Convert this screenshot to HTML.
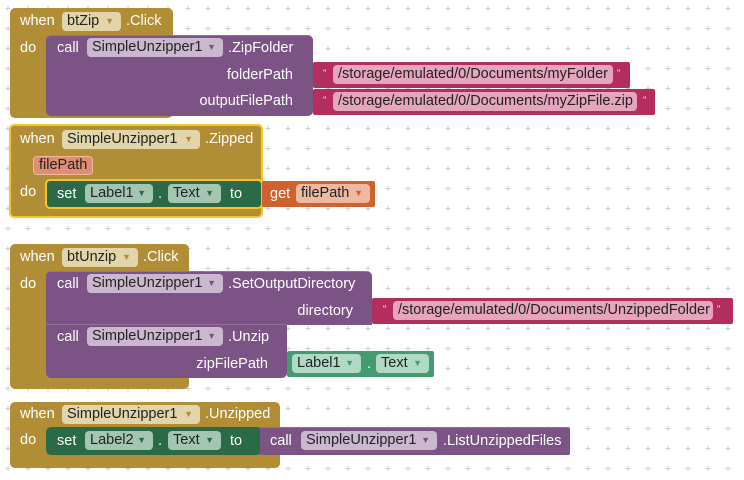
<!DOCTYPE html>
<html><head><meta charset="utf-8"><style>
body{margin:0;width:744px;height:480px;background:#fff;position:relative;overflow:hidden;font-family:"Liberation Sans",sans-serif;font-size:14.5px}
.b{position:absolute;border-radius:5px}
.gold{background:#b18e35}
.pur{background:#7c5385;border-top:1px solid #957099}
.pink{background:#b32d5e;border-radius:2px}
.dg{background:#2a6a47}
.lg{background:#459a72;border-radius:2px}
.or{background:#d0602c;border-radius:2px}
.t{position:absolute;color:#fff;line-height:16px;white-space:nowrap}
.r{text-align:right}
.c{position:absolute;height:19px;margin-top:-1px;line-height:19px;border-radius:4px;color:#222;padding:0 0 0 5px;white-space:nowrap;box-sizing:border-box}
.c i{font-style:normal;font-size:9px;color:#777;position:absolute;right:7px;top:0}
.cg{background:#e2d5a9}.cg i{color:#b18e35}
.cp{background:#cbb8d0}.cp i{color:#7c5385}
.cs{background:#e5a5bd}
.cgr{background:#a3c6b3}.cgr i{color:#2a6a47}
.cl{background:#b1dac6}.cl i{color:#459a72}
.co{background:#f0b89f}.co i{color:#d0602c}
.q{position:absolute;color:#fff;font-size:9px;line-height:10px}
</style></head><body>
<svg width="744" height="480" style="position:absolute;left:0;top:0">
<defs><pattern id="p" x="-2" y="-2" width="20" height="20" patternUnits="userSpaceOnUse">
<path d="M10 8v5M7.5 10.5h5" stroke="#cfcfcf" stroke-width="1"/></pattern></defs>
<rect width="744" height="480" fill="url(#p)"/></svg>

<!-- Block 1 -->
<div class="b gold" style="left:10px;top:8px;width:163px;height:110px"></div>
<div class="t" style="left:20px;top:13px">when</div>
<div class="c cg" style="left:62px;top:13px;width:59px">btZip<i>▼</i></div>
<div class="t" style="left:126px;top:13px">.Click</div>
<div class="t" style="left:20px;top:40px">do</div>
<div class="b pur" style="left:46px;top:35px;width:267px;height:80px"></div>
<div class="t" style="left:57px;top:40px">call</div>
<div class="c cp" style="left:87px;top:39px;width:136px">SimpleUnzipper1<i>▼</i></div>
<div class="t" style="left:228px;top:40px">.ZipFolder</div>
<div class="t r" style="left:150px;width:143px;top:67px">folderPath</div>
<div class="t r" style="left:150px;width:143px;top:93px">outputFilePath</div>
<div class="b pink" style="left:313px;top:62px;width:317px;height:26px"></div>
<div class="q" style="left:323px;top:68px">"</div>
<div class="c cs" style="left:333px;top:66px;width:280px">/storage/emulated/0/Documents/myFolder</div>
<div class="q" style="left:617px;top:68px">"</div>
<div class="b pink" style="left:313px;top:89px;width:342px;height:26px"></div>
<div class="q" style="left:323px;top:95px">"</div>
<div class="c cs" style="left:333px;top:93px;width:304px">/storage/emulated/0/Documents/myZipFile.zip</div>
<div class="q" style="left:643px;top:95px">"</div>

<!-- Block 2 -->
<div class="b gold" style="left:9px;top:124px;width:254px;height:94px;border:2px solid #f6c52d;box-sizing:border-box"></div>
<div class="t" style="left:20px;top:131px">when</div>
<div class="c cg" style="left:62px;top:131px;width:138px">SimpleUnzipper1<i>▼</i></div>
<div class="t" style="left:205px;top:131px">.Zipped</div>
<div class="c" style="left:33px;top:157px;width:60px;height:19px;background:#e08e73;border:1px solid #f0b9a0;color:#222;line-height:17px">filePath</div>
<div class="t" style="left:20px;top:184px">do</div>
<div class="b dg" style="left:45px;top:179px;width:218px;height:30px;border:2px solid #f6c52d;box-sizing:border-box"></div>
<div class="t" style="left:57px;top:186px">set</div>
<div class="c cgr" style="left:85px;top:185px;width:68px">Label1<i>▼</i></div>
<div class="t" style="left:158px;top:186px">.</div>
<div class="c cgr" style="left:168px;top:185px;width:53px">Text<i>▼</i></div>
<div class="t" style="left:230px;top:186px">to</div>
<div class="b or" style="left:262px;top:181px;width:113px;height:26px"></div>
<div class="t" style="left:270px;top:186px">get</div>
<div class="c co" style="left:296px;top:185px;width:74px">filePath<i>▼</i></div>

<!-- Block 3 -->
<div class="b gold" style="left:10px;top:244px;width:179px;height:145px"></div>
<div class="t" style="left:20px;top:249px">when</div>
<div class="c cg" style="left:62px;top:249px;width:76px">btUnzip<i>▼</i></div>
<div class="t" style="left:143px;top:249px">.Click</div>
<div class="t" style="left:20px;top:276px">do</div>
<div class="b pur" style="left:46px;top:271px;width:326px;height:53px;border-radius:5px 5px 0 0"></div>
<div class="t" style="left:57px;top:276px">call</div>
<div class="c cp" style="left:87px;top:275px;width:136px">SimpleUnzipper1<i>▼</i></div>
<div class="t" style="left:228px;top:276px">.SetOutputDirectory</div>
<div class="t r" style="left:200px;width:153px;top:303px">directory</div>
<div class="b pink" style="left:372px;top:298px;width:361px;height:26px"></div>
<div class="q" style="left:383px;top:304px">"</div>
<div class="c cs" style="left:393px;top:302px;width:320px">/storage/emulated/0/Documents/UnzippedFolder</div>
<div class="q" style="left:717px;top:304px">"</div>
<div class="b pur" style="left:46px;top:324px;width:241px;height:53px;border-radius:0 0 5px 5px;border-top:1px solid #957099"></div>
<div class="t" style="left:57px;top:329px">call</div>
<div class="c cp" style="left:87px;top:328px;width:136px">SimpleUnzipper1<i>▼</i></div>
<div class="t" style="left:228px;top:329px">.Unzip</div>
<div class="t r" style="left:150px;width:118px;top:356px">zipFilePath</div>
<div class="b lg" style="left:287px;top:351px;width:147px;height:26px"></div>
<div class="c cl" style="left:292px;top:355px;width:69px">Label1<i>▼</i></div>
<div class="t" style="left:367px;top:356px">.</div>
<div class="c cl" style="left:376px;top:355px;width:53px">Text<i>▼</i></div>

<!-- Block 4 -->
<div class="b gold" style="left:10px;top:402px;width:270px;height:66px"></div>
<div class="t" style="left:20px;top:406px">when</div>
<div class="c cg" style="left:62px;top:406px;width:138px">SimpleUnzipper1<i>▼</i></div>
<div class="t" style="left:205px;top:406px">.Unzipped</div>
<div class="t" style="left:20px;top:432px">do</div>
<div class="b dg" style="left:46px;top:427px;width:216px;height:28px"></div>
<div class="t" style="left:57px;top:433px">set</div>
<div class="c cgr" style="left:85px;top:432px;width:68px">Label2<i>▼</i></div>
<div class="t" style="left:158px;top:433px">.</div>
<div class="c cgr" style="left:168px;top:432px;width:53px">Text<i>▼</i></div>
<div class="t" style="left:230px;top:433px">to</div>
<div class="b pur" style="left:260px;top:427px;width:310px;height:27px;border-radius:2px"></div>
<div class="t" style="left:270px;top:433px">call</div>
<div class="c cp" style="left:301px;top:432px;width:136px">SimpleUnzipper1<i>▼</i></div>
<div class="t" style="left:443px;top:433px">.ListUnzippedFiles</div>
</body></html>
